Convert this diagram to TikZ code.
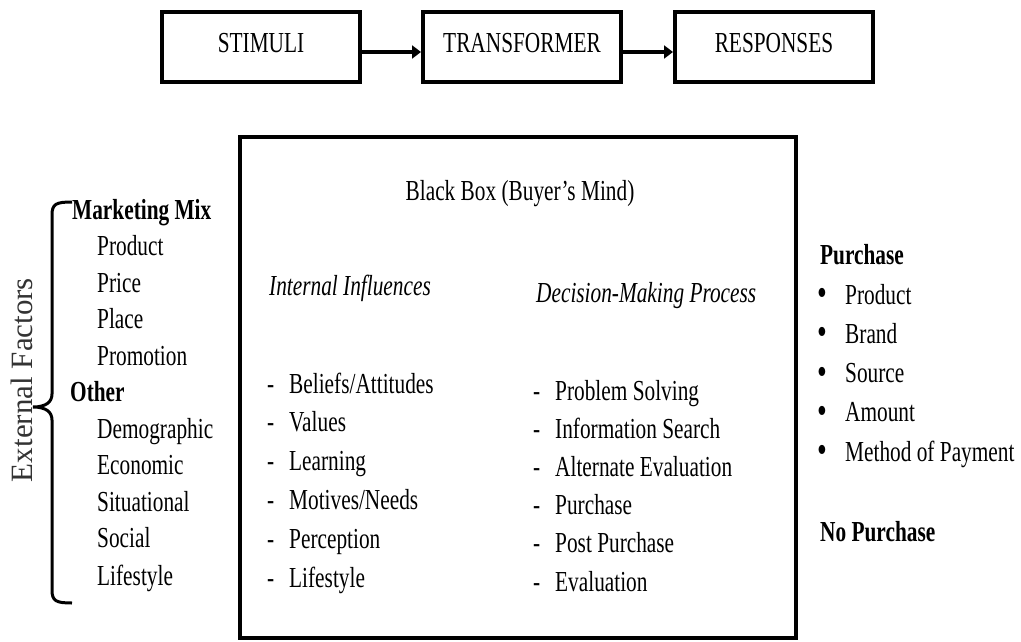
\documentclass[tikz,border=0pt]{standalone}
\usepackage{fontspec}
\setmainfont{Liberation Serif}[FakeStretch=0.735]
\newfontfamily\uprightserif{Liberation Serif}
\usetikzlibrary{arrows.meta, positioning}

\newcommand{\diagfont}{\fontsize{29}{34}\selectfont}
\newcommand{\dashlabel}{\makebox[22pt][l]{-}}
\newcommand{\bulletlabel}{\makebox[28pt][l]{\raisebox{-1.5pt}{\fontsize{38}{38}\selectfont •}}}

\begin{document}
\begin{tikzpicture}[
        x=1pt, y=-1pt,
        stage/.style={rectangle, draw, line width=4pt, minimum width=198pt, minimum height=70pt, text depth=8pt, font=\diagfont},
        mindbox/.style={rectangle, draw, line width=4pt, minimum width=556pt, minimum height=501pt},
        item/.style={anchor=base west, inner sep=0pt, font=\diagfont},
        head/.style={item, font=\diagfont\bfseries},
        group/.style={item, font=\diagfont\itshape},
        arrow/.style={-{Triangle[length=9pt, width=13pt]}, line width=4pt},
        brace/.style={line width=3pt},
        node distance=1cm and 1cm
        ]
        \useasboundingbox (0,0) rectangle (1021,642);

        % Top row
        \node (stimuli) [stage] at (261,47) {STIMULI};
        \node (transformer) [stage, right=59pt of stimuli] {TRANSFORMER};
        \node (responses) [stage, right=50pt of transformer] {RESPONSES};

        \draw [arrow] ([yshift=-5pt]stimuli.east) -- ([yshift=-5pt]transformer.west);
        \draw [arrow] ([yshift=-5pt]transformer.east) -- ([yshift=-5pt]responses.west);

        % Black box
        \node (blackbox) [mindbox] at (518,387.5) {};
        \node (title) [anchor=base, inner sep=0pt, font=\diagfont] at (520,200) {Black Box (Buyer’s Mind)};
        \node (internal) [group] at (269,295) {Internal Influences};
        \node (decision) [group] at (536,302) {Decision-Making Process};

        \node (inf1) [item] at (267,393) {\dashlabel Beliefs/Attitudes};
        \node (inf2) [item] at (267,431.8) {\dashlabel Values};
        \node (inf3) [item] at (267,470.6) {\dashlabel Learning};
        \node (inf4) [item] at (267,509.4) {\dashlabel Motives/Needs};
        \node (inf5) [item] at (267,548.2) {\dashlabel Perception};
        \node (inf6) [item] at (267,587) {\dashlabel Lifestyle};

        \node (dec1) [item] at (533,400) {\dashlabel Problem Solving};
        \node (dec2) [item] at (533,438.2) {\dashlabel Information Search};
        \node (dec3) [item] at (533,476.4) {\dashlabel Alternate Evaluation};
        \node (dec4) [item] at (533,514.6) {\dashlabel Purchase};
        \node (dec5) [item] at (533,552.8) {\dashlabel Post Purchase};
        \node (dec6) [item] at (533,591) {\dashlabel Evaluation};

        % External factors
        \node (mix) [head] at (72,219) {Marketing Mix};
        \node (mix1) [item] at (97,255.5) {Product};
        \node (mix2) [item] at (97,292) {Price};
        \node (mix3) [item] at (97,328.5) {Place};
        \node (mix4) [item] at (97,365) {Promotion};
        \node (other) [head] at (70,401.5) {Other};
        \node (other1) [item] at (97,438) {Demographic};
        \node (other2) [item] at (97,474.5) {Economic};
        \node (other3) [item] at (97,511) {Situational};
        \node (other4) [item] at (97,547.5) {Social};
        \node (other5) [item] at (97,585) {Lifestyle};

        \node (external) [rotate=90, inner sep=0pt, text=black!80, font=\uprightserif\fontsize{31}{36}\selectfont] at (22,380) {External Factors};
        \draw [brace] (72,202) .. controls (56,202) and (52,204) .. (52,215) -- (52,394)
            .. controls (52,402) and (46,407) .. (33,407)
            .. controls (46,407) and (52,412) .. (52,420) -- (52,590)
            .. controls (52,601) and (56,603) .. (72,603);

        % Responses
        \node (purchase) [head] at (820,264) {Purchase};
        \node (resp1) [item] at (817,304) {\bulletlabel Product};
        \node (resp2) [item] at (817,343.3) {\bulletlabel Brand};
        \node (resp3) [item] at (817,382.6) {\bulletlabel Source};
        \node (resp4) [item] at (817,421.9) {\bulletlabel Amount};
        \node (resp5) [item] at (817,461.2) {\bulletlabel Method of Payment};
        \node (nopurchase) [head] at (820,541) {No Purchase};

    \end{tikzpicture}
\end{document}
